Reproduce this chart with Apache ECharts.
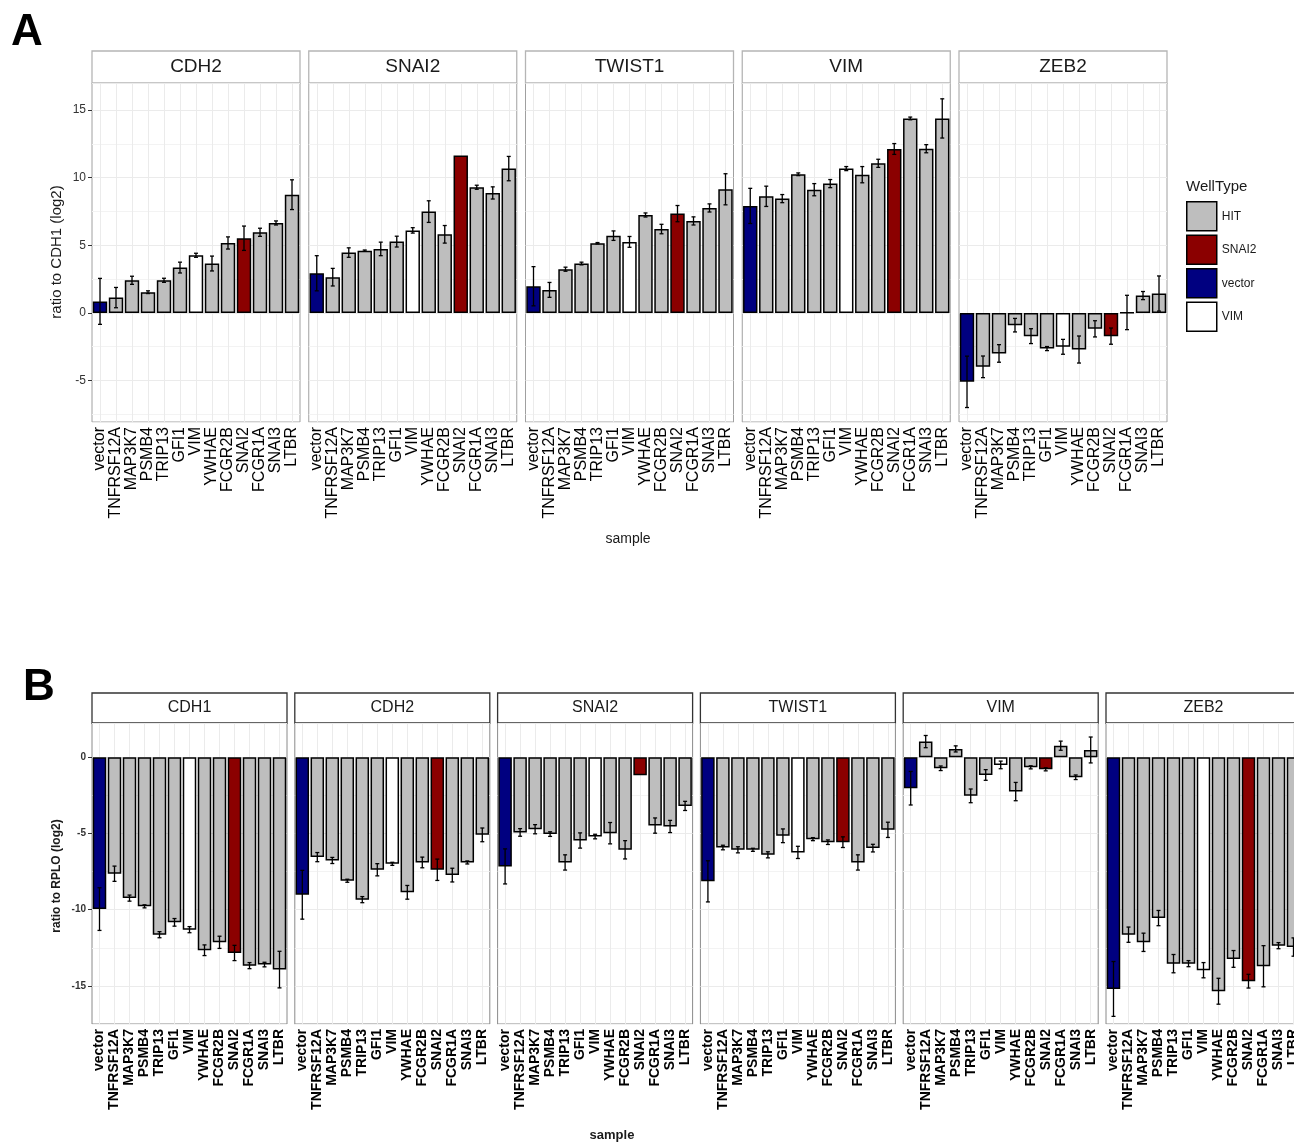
<!DOCTYPE html>
<html>
<head>
<meta charset="utf-8">
<script src="https://cdn.jsdelivr.net/npm/echarts@6/dist/echarts.min.js"></script>
<style>
  html, body { margin: 0; padding: 0; background: #fff; }
  #chart { width: 1294px; height: 1143px; }
</style>
</head>
<body>
<div id="chart"></div>
<script>
// samples on the x axis and their well type
const samples = ['vector', 'TNFRSF12A', 'MAP3K7', 'PSMB4', 'TRIP13', 'GFI1', 'VIM', 'YWHAE', 'FCGR2B', 'SNAI2', 'FCGR1A', 'SNAI3', 'LTBR'];
const wellTypes = ['vector', 'HIT', 'HIT', 'HIT', 'HIT', 'HIT', 'VIM', 'HIT', 'HIT', 'SNAI2', 'HIT', 'HIT', 'HIT'];
const typeNames = ['HIT', 'SNAI2', 'vector', 'VIM'];
const typeColors = { HIT: '#bebebe', SNAI2: '#8b0000', vector: '#000080', VIM: '#ffffff' };

// A: ratio to CDH1 (log2)
const genesA = ['CDH2', 'SNAI2', 'TWIST1', 'VIM', 'ZEB2'];
const A_CDH2 = [0.85, 1.13, 2.41, 1.53, 2.41, 3.35, 4.26, 3.65, 5.17, 5.52, 5.96, 6.65, 8.74];
const A_CDH2_se = [1.7, 0.75, 0.3, 0.1, 0.15, 0.4, 0.15, 0.55, 0.45, 0.9, 0.3, 0.15, 1.1];
const A_SNAI2 = [2.93, 2.64, 4.46, 4.6, 4.73, 5.27, 6.1, 7.49, 5.81, 11.63, 9.29, 8.87, 10.67];
const A_SNAI2_se = [1.3, 0.65, 0.35, 0.05, 0.5, 0.4, 0.2, 0.8, 0.65, 0, 0.15, 0.45, 0.9];
const A_TWIST1 = [1.97, 1.7, 3.23, 3.65, 5.15, 5.71, 5.25, 7.24, 6.2, 7.34, 6.8, 7.76, 9.14];
const A_TWIST1_se = [1.45, 0.55, 0.15, 0.1, 0.05, 0.35, 0.4, 0.15, 0.35, 0.6, 0.3, 0.3, 1.15];
const A_VIM = [7.91, 8.62, 8.45, 10.25, 9.11, 9.56, 10.67, 10.22, 11.06, 12.12, 14.38, 12.14, 14.38];
const A_VIM_se = [1.3, 0.75, 0.3, 0.1, 0.45, 0.3, 0.15, 0.6, 0.3, 0.4, 0.1, 0.3, 1.45];
const A_ZEB2 = [-5.1, -3.99, -3.0, -0.91, -1.72, -2.64, -2.51, -2.71, -1.18, -1.72, 0.03, 1.28, 1.43];
const A_ZEB2_se = [1.9, 0.8, 0.65, 0.5, 0.55, 0.15, 0.55, 1.0, 0.6, 0.6, 1.27, 0.3, 1.3];
const minorA = [-7.5, -2.5, 2.5, 7.5, 12.5];

// B: ratio to RPLO (log2)
const genesB = ['CDH1', 'CDH2', 'SNAI2', 'TWIST1', 'VIM', 'ZEB2'];
const B_CDH1 = [-9.96, -7.64, -9.24, -9.78, -11.64, -10.83, -11.31, -12.66, -12.14, -12.84, -13.67, -13.6, -13.93];
const B_CDH1_se = [1.4, 0.5, 0.2, 0.1, 0.2, 0.25, 0.2, 0.35, 0.4, 0.5, 0.2, 0.15, 1.2];
const B_CDH2 = [-9.02, -6.55, -6.77, -8.1, -9.34, -7.38, -6.99, -8.86, -6.9, -7.38, -7.73, -6.9, -5.09];
const B_CDH2_se = [1.6, 0.3, 0.2, 0.1, 0.2, 0.4, 0.1, 0.45, 0.35, 0.7, 0.45, 0.1, 0.45];
const B_SNAI2 = [-7.16, -4.93, -4.72, -5.04, -6.9, -5.46, -5.2, -4.98, -6.07, -1.18, -4.48, -4.54, -3.19];
const B_SNAI2_se = [1.15, 0.25, 0.3, 0.15, 0.5, 0.5, 0.15, 0.7, 0.6, 0, 0.5, 0.4, 0.3];
const B_TWIST1 = [-8.14, -5.92, -6.07, -6.07, -6.4, -5.15, -6.24, -5.37, -5.57, -5.57, -6.9, -5.96, -4.76];
const B_TWIST1_se = [1.35, 0.15, 0.2, 0.1, 0.2, 0.45, 0.4, 0.1, 0.15, 0.35, 0.5, 0.25, 0.5];
const B_VIM = [-2.03, 1.03, -0.72, 0.55, -2.53, -1.16, -0.5, -2.25, -0.66, -0.79, 0.76, -1.31, 0.48];
const B_VIM_se = [1.1, 0.4, 0.15, 0.2, 0.45, 0.35, 0.25, 0.6, 0.1, 0.1, 0.3, 0.15, 0.85];
const B_ZEB2 = [-15.2, -11.64, -12.14, -10.55, -13.54, -13.54, -13.97, -15.35, -13.23, -14.69, -13.71, -12.36, -12.45];
const B_ZEB2_se = [1.8, 0.5, 0.6, 0.5, 0.6, 0.2, 0.5, 0.85, 0.55, 0.45, 1.35, 0.2, 0.6];
const minorB = [-17.5, -12.5, -7.5, -2.5];

const FONT = '"Liberation Sans", Arial, sans-serif';

// one row of facets per panel
const rows = [
  {
    facets: genesA,
    means: [A_CDH2, A_SNAI2, A_TWIST1, A_VIM, A_ZEB2],
    ses: [A_CDH2_se, A_SNAI2_se, A_TWIST1_se, A_VIM_se, A_ZEB2_se],
    minor: minorA, min: -8.07, max: 17.0,
    top: 83, height: 339, left0: 92, pitch: 216.75, width: 208,
    stripTop: 51, stripH: 32, stripStroke: '#b5b5b5', stripFont: 19,
    border: '#a0a0a0', xFont: 16, xWeight: 'normal', yFont: 12, yWeight: 'normal'
  },
  {
    facets: genesB,
    means: [B_CDH1, B_CDH2, B_SNAI2, B_TWIST1, B_VIM, B_ZEB2],
    ses: [B_CDH1_se, B_CDH2_se, B_SNAI2_se, B_TWIST1_se, B_VIM_se, B_ZEB2_se],
    minor: minorB, min: -17.5, max: 2.25,
    top: 723, height: 301, left0: 92, pitch: 202.8, width: 195,
    stripTop: 693, stripH: 30, stripStroke: '#333333', stripFont: 16,
    border: '#8a8a8a', xFont: 14, xWeight: 'bold', yFont: 10, yWeight: 'bold'
  }
];

const grids = [], xAxes = [], yAxes = [], series = [], graphics = [];

// error bars: vertical line + small caps
function errRender(params, api) {
  const x = api.value(0), m = api.value(1), e = api.value(2);
  if (!e) return null;
  const hi = api.coord([x, m + e]);
  const lo = api.coord([x, m - e]);
  const c = 2;
  const st = { stroke: '#000', lineWidth: 1.3 };
  return {
    type: 'group',
    children: [
      { type: 'line', shape: { x1: hi[0], y1: hi[1], x2: lo[0], y2: lo[1] }, style: st },
      { type: 'line', shape: { x1: hi[0] - c, y1: hi[1], x2: hi[0] + c, y2: hi[1] }, style: st },
      { type: 'line', shape: { x1: lo[0] - c, y1: lo[1], x2: lo[0] + c, y2: lo[1] }, style: st }
    ]
  };
}

// background grid: minor y lines + one vertical line per sample
function gridLines(minor) {
  const out = minor.map(function (v) {
    return { yAxis: v, lineStyle: { color: '#f3f3f3', width: 1, type: 'solid' } };
  });
  samples.forEach(function (s) {
    out.push({ xAxis: s, lineStyle: { color: '#ebebeb', width: 1, type: 'solid' } });
  });
  return out;
}

rows.forEach(function (row) {
  row.facets.forEach(function (gene, j) {
    const k = grids.length;
    const left = row.left0 + j * row.pitch;
    grids.push({
      left: left, top: row.top, width: row.width, height: row.height,
      show: true, backgroundColor: '#fff', borderColor: row.border, borderWidth: 1,
      containLabel: false, outerBoundsMode: 'none'
    });
    xAxes.push({
      type: 'category', gridIndex: k, data: samples,
      axisLine: { show: false },
      axisTick: { show: true, alignWithLabel: true, length: 4, lineStyle: { color: '#333' } },
      axisLabel: {
        interval: 0, rotate: 90, margin: 5, color: '#000',
        fontFamily: FONT, fontSize: row.xFont, fontWeight: row.xWeight
      },
      splitLine: { show: false }
    });
    yAxes.push({
      type: 'value', gridIndex: k, min: row.min, max: row.max, splitNumber: 4,
      axisLine: { show: false },
      axisTick: { show: j === 0, length: 4, lineStyle: { color: '#333' } },
      axisLabel: {
        show: j === 0, showMinLabel: false, showMaxLabel: false, margin: 6,
        color: '#333', fontFamily: FONT, fontSize: row.yFont, fontWeight: row.yWeight
      },
      splitLine: { show: true, lineStyle: { color: '#ebebeb', width: 1 } }
    });
    series.push({
      type: 'bar', xAxisIndex: k, yAxisIndex: k, barCategoryGap: '10%', z: 2,
      silent: true, animation: false,
      data: row.means[j].map(function (v, i) {
        return { value: v, itemStyle: { color: typeColors[wellTypes[i]] } };
      }),
      itemStyle: { borderColor: '#000', borderWidth: 1.5 },
      markLine: {
        silent: true, symbol: 'none', z: 1, animation: false,
        label: { show: false },
        data: gridLines(row.minor)
      }
    });
    series.push({
      type: 'custom', xAxisIndex: k, yAxisIndex: k, z: 3, silent: true, animation: false,
      renderItem: errRender,
      encode: { x: 0, y: 1 },
      data: row.means[j].map(function (v, i) { return [i, v, row.ses[j][i]]; })
    });
    // facet strip
    graphics.push({
      type: 'rect', silent: true,
      shape: { x: left, y: row.stripTop, width: row.width, height: row.stripH },
      style: { fill: '#fff', stroke: row.stripStroke, lineWidth: 1.3 }
    });
    graphics.push({
      type: 'text', silent: true,
      x: left + row.width / 2, y: row.stripTop + row.stripH / 2,
      style: {
        text: gene, fill: '#1a1a1a', font: row.stripFont + 'px ' + FONT,
        textAlign: 'center', textVerticalAlign: 'middle'
      }
    });
  });
});

// legend keys (empty series carrying the fill colours)
typeNames.forEach(function (t) {
  series.push({
    name: t, type: 'scatter', xAxisIndex: 0, yAxisIndex: 0, data: [],
    itemStyle: { color: typeColors[t], opacity: 1, borderColor: '#000', borderWidth: 1.5 }
  });
});

// titles and panel letters
graphics.push(
  { type: 'text', silent: true, x: 27, y: 33,
    style: { text: 'A', fill: '#000', font: 'bold 44px ' + FONT, textAlign: 'center', textVerticalAlign: 'middle' } },
  { type: 'text', silent: true, x: 39, y: 688,
    style: { text: 'B', fill: '#000', font: 'bold 44px ' + FONT, textAlign: 'center', textVerticalAlign: 'middle' } },
  { type: 'text', silent: true, x: 57, y: 252, rotation: Math.PI / 2,
    style: { text: 'ratio to CDH1 (log2)', fill: '#1a1a1a', font: '15px ' + FONT, textAlign: 'center', textVerticalAlign: 'middle' } },
  { type: 'text', silent: true, x: 57, y: 876, rotation: Math.PI / 2,
    style: { text: 'ratio to RPLO (log2)', fill: '#1a1a1a', font: 'bold 12px ' + FONT, textAlign: 'center', textVerticalAlign: 'middle' } },
  { type: 'text', silent: true, x: 628, y: 539,
    style: { text: 'sample', fill: '#1a1a1a', font: '14px ' + FONT, textAlign: 'center', textVerticalAlign: 'middle' } },
  { type: 'text', silent: true, x: 612, y: 1135,
    style: { text: 'sample', fill: '#1a1a1a', font: 'bold 13px ' + FONT, textAlign: 'center', textVerticalAlign: 'middle' } },
  { type: 'text', silent: true, x: 1186, y: 187,
    style: { text: 'WellType', fill: '#1a1a1a', font: '15px ' + FONT, textAlign: 'left', textVerticalAlign: 'middle' } }
);

const chart = echarts.init(document.getElementById('chart'));
chart.setOption({
  animation: false,
  backgroundColor: '#fff',
  grid: grids,
  xAxis: xAxes,
  yAxis: yAxes,
  legend: {
    data: typeNames, orient: 'vertical', left: 1186, top: 201, padding: 0,
    icon: 'rect', itemWidth: 30, itemHeight: 29, itemGap: 3, selectedMode: false,
    itemStyle: { borderColor: '#000', borderWidth: 1.5, opacity: 1 },
    textStyle: { fontFamily: FONT, fontSize: 12, color: '#1a1a1a' }
  },
  series: series,
  graphic: graphics
});
</script>
</body>
</html>
